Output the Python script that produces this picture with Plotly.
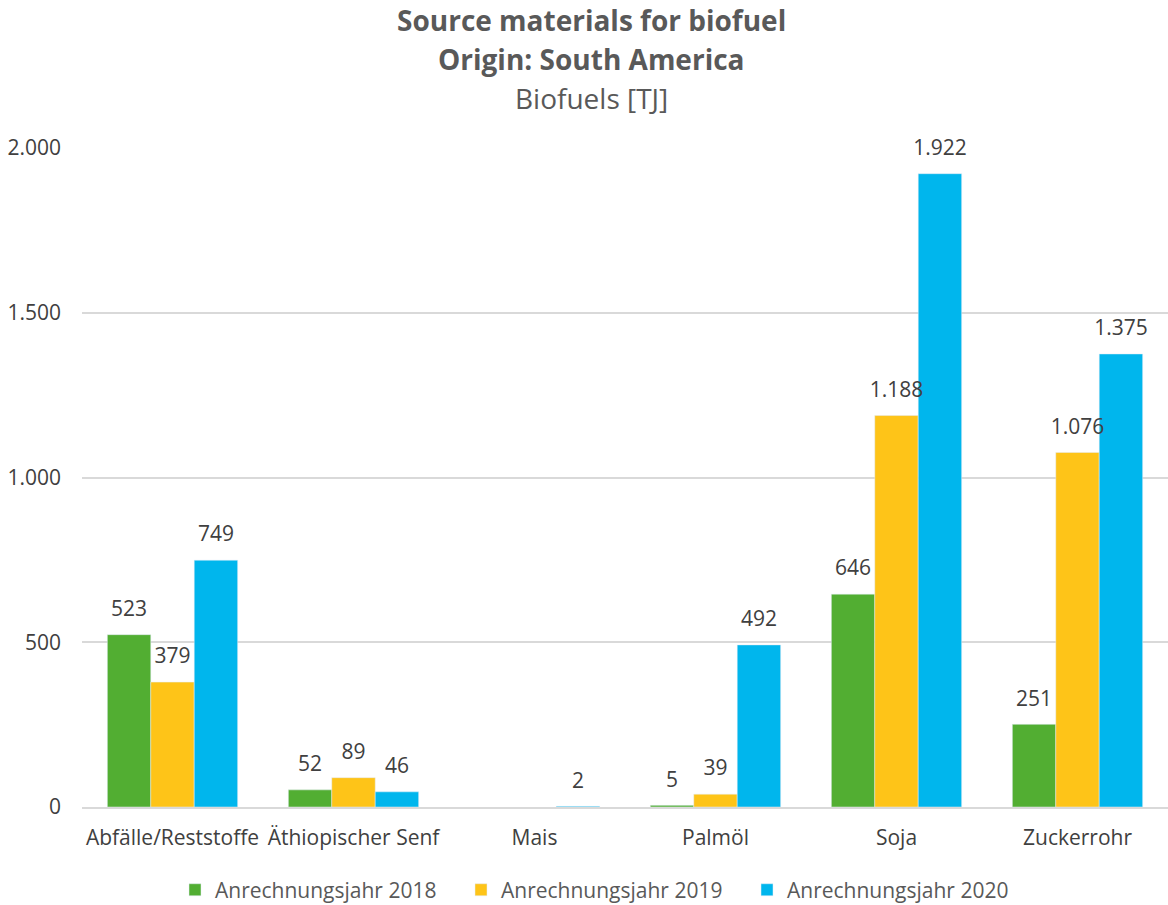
import plotly.graph_objects as go

categories = ["Abfälle/Reststoffe", "Äthiopischer Senf", "Mais", "Palmöl", "Soja", "Zuckerrohr"]
series_names = ["Anrechnungsjahr 2018", "Anrechnungsjahr 2019", "Anrechnungsjahr 2020"]
values_2018 = [523, 52, None, 5, 646, 251]
values_2019 = [379, 89, None, 39, 1188, 1076]
values_2020 = [749, 46, 2, 492, 1922, 1375]
colors = ["#52ae32", "#fec418", "#00b6ed"]
tick_vals = [0, 500, 1000, 1500, 2000]
title_lines = ["<b>Source materials for biofuel</b>", "<b>Origin: South America</b>", "Biofuels [TJ]"]

FONT = "Open Sans, Noto Sans, sans-serif"
W, H = 1168, 905
L, R, T, B = 82, 0, 148, 98
plot_w = W - L - R
plot_h = H - T - B

fig = go.Figure()
for i, (name, vals, col) in enumerate(zip(series_names, [values_2018, values_2019, values_2020], colors)):
    fig.add_trace(go.Bar(
        x=categories, y=vals, name=name, marker_color=col,
        offsetgroup=str(i), alignmentgroup="g",
    ))
for i, vals in enumerate([values_2018, values_2019, values_2020]):
    fig.add_trace(go.Scatter(
        x=categories, y=vals, mode="markers+text", showlegend=False,
        offsetgroup=str(i), alignmentgroup="g",
        marker=dict(size=20, opacity=0), hoverinfo="skip",
        text=vals, texttemplate="%{y:,}", textposition="top center",
        textfont=dict(size=21, color="#404040", family=FONT), cliponaxis=False,
    ))

for line, ypx in zip(title_lines, [20, 59, 98]):
    fig.add_annotation(
        text=line, xref="paper", yref="paper", x=(591 - L) / plot_w, y=1 + (T - ypx) / plot_h,
        xanchor="center", yanchor="middle", showarrow=False,
        font=dict(size=28, color="#595959", family=FONT),
    )

fig.update_layout(
    width=W, height=H,
    paper_bgcolor="white", plot_bgcolor="white",
    separators=",.",
    barmode="group", scattermode="group", bargap=0.28, bargroupgap=0,
    font=dict(family=FONT, color="#595959"),
    margin=dict(l=L, r=R, t=T, b=B, autoexpand=False),
    xaxis=dict(tickfont=dict(size=21, color="#404040"), showline=True, linecolor="#d9d9d9",
               linewidth=2, ticks="", showgrid=False, ticklabelstandoff=11),
    yaxis=dict(range=[0, 2000], tickvals=tick_vals, tickformat=",", showgrid=True,
               gridcolor="#d9d9d9", gridwidth=2, zeroline=False,
               tickfont=dict(size=21, color="#404040"), ticks="", ticklabelstandoff=20),
    legend=dict(orientation="h", x=(604 - L) / plot_w, xanchor="center", y=-0.095, yanchor="top",
                font=dict(size=21, color="#595959"), itemwidth=30,
                entrywidth=241, entrywidthmode="pixels"),
)

fig.write_html("out.html", post_script="document.body.style.margin='0';",
               config={"displayModeBar": False})
